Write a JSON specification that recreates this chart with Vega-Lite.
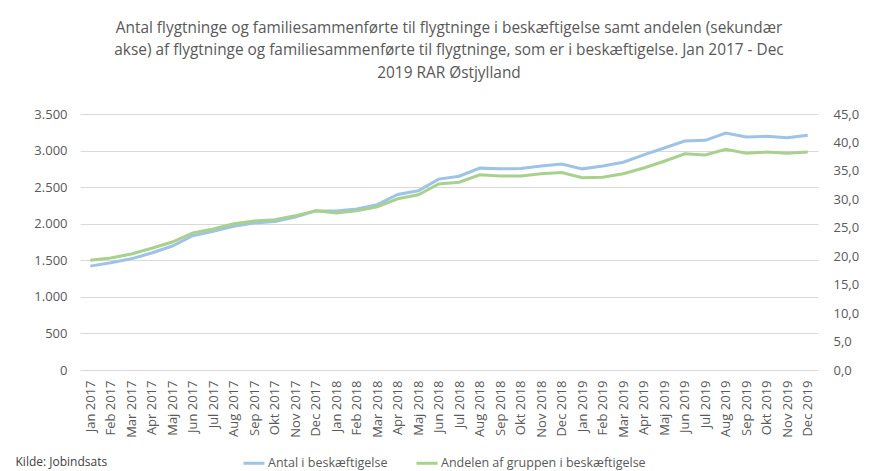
{
  "$schema": "https://vega.github.io/schema/vega-lite/v6.json",
  "autosize": "none",
  "width": 738,
  "height": 256,
  "padding": {"left": 80, "top": 114, "right": 55, "bottom": 101},
  "background": "white",
  "config": {
    "locale": {"number": {"decimal": ",", "thousands": ".", "grouping": [3], "currency": ["", " kr."]}},
    "font": "Open Sans",
    "view": {"stroke": null},
    "axis": {"labelColor": "#595959", "labelFont": "Open Sans", "labelFontSize": 13, "ticks": false, "domain": false}
  },
  "title": {
    "text": ["Antal flygtninge og familiesammenførte til flygtninge i beskæftigelse samt andelen (sekundær", "akse) af flygtninge og familiesammenførte til flygtninge, som er i beskæftigelse. Jan 2017 - Dec", "2019 RAR Østjylland"],
    "font": "Open Sans",
    "fontSize": 15.4,
    "fontWeight": "normal",
    "color": "#595959",
    "lineHeight": 22.5,
    "anchor": "middle",
    "offset": 27
  },
  "data": {
    "values": [
      {"m": "Jan 2017", "antal": 1420, "andel": 19.3},
      {"m": "Feb 2017", "antal": 1465, "andel": 19.7},
      {"m": "Mar 2017", "antal": 1520, "andel": 20.4},
      {"m": "Apr 2017", "antal": 1600, "andel": 21.4},
      {"m": "Maj 2017", "antal": 1695, "andel": 22.5},
      {"m": "Jun 2017", "antal": 1835, "andel": 24.1},
      {"m": "Jul 2017", "antal": 1895, "andel": 24.8},
      {"m": "Aug 2017", "antal": 1965, "andel": 25.7},
      {"m": "Sep 2017", "antal": 2010, "andel": 26.2},
      {"m": "Okt 2017", "antal": 2030, "andel": 26.4},
      {"m": "Nov 2017", "antal": 2090, "andel": 27.1},
      {"m": "Dec 2017", "antal": 2175, "andel": 28.0},
      {"m": "Jan 2018", "antal": 2175, "andel": 27.6},
      {"m": "Feb 2018", "antal": 2200, "andel": 28.0},
      {"m": "Mar 2018", "antal": 2260, "andel": 28.7},
      {"m": "Apr 2018", "antal": 2400, "andel": 30.1},
      {"m": "Maj 2018", "antal": 2450, "andel": 30.8},
      {"m": "Jun 2018", "antal": 2610, "andel": 32.7},
      {"m": "Jul 2018", "antal": 2650, "andel": 33.0},
      {"m": "Aug 2018", "antal": 2760, "andel": 34.3},
      {"m": "Sep 2018", "antal": 2750, "andel": 34.1},
      {"m": "Okt 2018", "antal": 2755, "andel": 34.1},
      {"m": "Nov 2018", "antal": 2790, "andel": 34.5},
      {"m": "Dec 2018", "antal": 2815, "andel": 34.7},
      {"m": "Jan 2019", "antal": 2750, "andel": 33.8},
      {"m": "Feb 2019", "antal": 2790, "andel": 33.9},
      {"m": "Mar 2019", "antal": 2840, "andel": 34.5},
      {"m": "Apr 2019", "antal": 2940, "andel": 35.5},
      {"m": "Maj 2019", "antal": 3035, "andel": 36.7},
      {"m": "Jun 2019", "antal": 3130, "andel": 38.0},
      {"m": "Jul 2019", "antal": 3140, "andel": 37.8},
      {"m": "Aug 2019", "antal": 3240, "andel": 38.8},
      {"m": "Sep 2019", "antal": 3185, "andel": 38.1},
      {"m": "Okt 2019", "antal": 3195, "andel": 38.3},
      {"m": "Nov 2019", "antal": 3175, "andel": 38.1},
      {"m": "Dec 2019", "antal": 3210, "andel": 38.3}
    ]
  },
  "encoding": {
    "x": {
      "field": "m",
      "type": "ordinal",
      "sort": null,
      "scale": {"type": "point", "padding": 0.5},
      "axis": {
        "title": "Kilde: Jobindsats",
        "titleFont": "Open Sans",
        "titleFontSize": 12,
        "titleFontWeight": "normal",
        "titleColor": "#404040",
        "titleAnchor": "start",
        "titleAlign": "left",
        "titleBaseline": "middle",
        "titleX": -65,
        "titleY": 91,
        "labelAngle": -90,
        "labelAlign": "right",
        "labelBaseline": "middle",
        "labelPadding": 10,
        "labelFontSize": 13,
        "grid": false
      }
    },
    "color": {
      "scale": {"domain": ["Antal i beskæftigelse", "Andelen af gruppen i beskæftigelse"], "range": ["#9dc3e6", "#a9d18e"]},
      "legend": {
        "title": null,
        "orient": "none",
        "legendX": 162,
        "legendY": 337,
        "direction": "horizontal",
        "symbolType": "stroke",
        "symbolStrokeWidth": 3,
        "symbolSize": 440,
        "labelFont": "Open Sans",
        "labelFontSize": 12.5,
        "labelColor": "#595959",
        "labelLimit": 400,
        "columnPadding": 22,
        "labelOffset": 2
      }
    }
  },
  "layer": [
    {
      "mark": {"type": "line", "strokeWidth": 3},
      "encoding": {
        "y": {
          "field": "antal",
          "type": "quantitative",
          "scale": {"domain": [0, 3500], "nice": false},
          "axis": {"title": null, "format": ",d", "values": [0, 500, 1000, 1500, 2000, 2500, 3000, 3500], "grid": true, "gridColor": "#d9d9d9", "gridWidth": 1, "labelPadding": 13}
        },
        "color": {"datum": "Antal i beskæftigelse"}
      }
    },
    {
      "mark": {"type": "line", "strokeWidth": 3},
      "encoding": {
        "y": {
          "field": "andel",
          "type": "quantitative",
          "scale": {"domain": [0, 45], "nice": false},
          "axis": {"title": null, "orient": "right", "format": ".1f", "values": [0, 5, 10, 15, 20, 25, 30, 35, 40, 45], "grid": false, "labelPadding": 15}
        },
        "color": {"datum": "Andelen af gruppen i beskæftigelse"}
      }
    }
  ],
  "resolve": {"scale": {"y": "independent"}}
}
